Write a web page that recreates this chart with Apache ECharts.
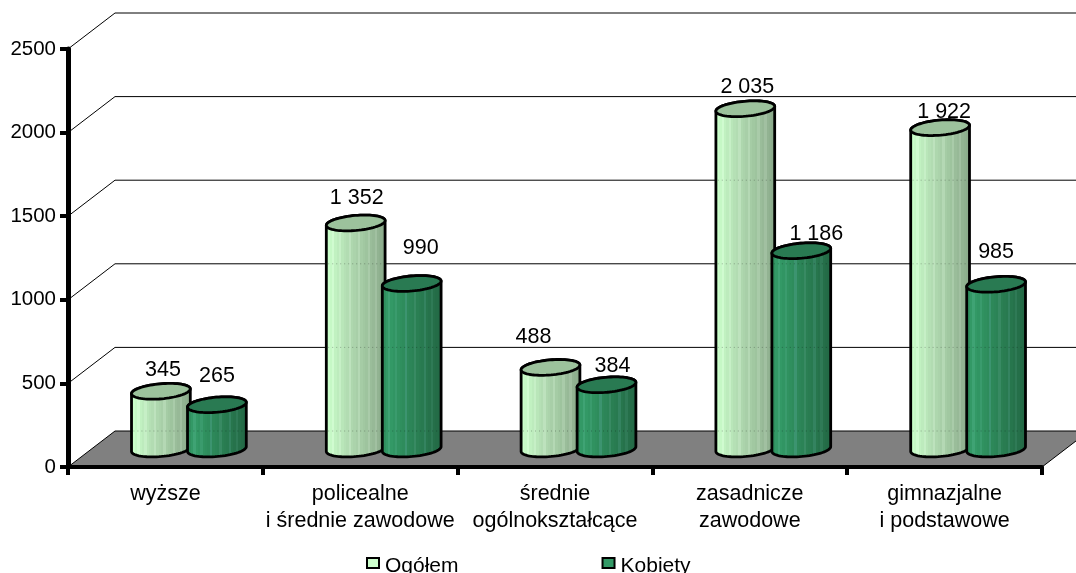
<!DOCTYPE html>
<html>
<head>
<meta charset="utf-8">
<title>Ogółem i Kobiety</title>
<style>html,body{margin:0;padding:0;background:#fff}#main{width:1076px;height:573px}</style>
<script src="https://cdn.jsdelivr.net/npm/echarts@6/dist/echarts.min.js"></script>
</head>
<body>
<div id="main"></div>
<script>
var categories = ['wyższe', 'policealne\ni średnie zawodowe', 'średnie\nogólnokształcące', 'zasadnicze\nzawodowe', 'gimnazjalne\ni podstawowe'];
var ogolem = [345, 1352, 488, 2035, 1922];
var kobiety = [265, 990, 384, 1186, 985];
var yTicks = [0, 500, 1000, 1500, 2000, 2500];

// polozenie etykiet wzgledem srodka gornej podstawy walca (recznie przesuniete jak w oryginale)
var ogolemLabelShift = [[2, -21], [1, -25], [-17, -30], [2, -22], [4, -16]];
var kobietyLabelShift = [[0, -29], [9, -35], [6, -19], [15, -17], [0, -32]];

var FONT = 'Liberation Sans';
var DEPTH_X = 47, DEPTH_Y = 36;
var CYL_W = 59, CYL_OFF = 28, RY = 7.5, TILT = -5 * Math.PI / 180;

var lightBands = ['#ccffcc','#caffca','#c6f8c6','#d0fbd0','#c1f1c1','#bdebbd','#c6efc6','#b9e6b9','#b5e0b5','#b2dcb2','#bde2bd','#aed7ae','#abd3ab','#a8cfa8','#b4d8b4','#a5cca5','#a1c8a1','#9ec49e','#a9cba9','#9abd9a','#97b997','#a1c0a1','#92b392','#8fb08f','#8cac8c','#8aa98a'];
var darkBands = ['#2e8a5c','#30905f','#339966','#3fa374','#339966','#319563','#3a9b6d','#309260','#2f8f5e','#2e8c5c','#3c9470','#2d8859','#2c8558','#2b8356','#388a63','#2a7f53','#297c51','#287a50','#348360','#27764d','#26724b','#2f7a56','#256f49','#246c47','#236a46','#226745'];

function bandFill(bands) {
    var stops = [];
    for (var i = 0; i < bands.length; i++) {
        stops.push({offset: i / bands.length, color: bands[i]});
        stops.push({offset: (i + 1) / bands.length, color: bands[i]});
    }
    return new echarts.graphic.LinearGradient(0, 0, 1, 0, stops);
}

// punkt na pochylonej elipsie
function ellipsePt(cx, cy, t) {
    var ex = CYL_W / 2 * Math.cos(t), ey = RY * Math.sin(t);
    return [cx + ex * Math.cos(TILT) - ey * Math.sin(TILT), cy + ex * Math.sin(TILT) + ey * Math.cos(TILT)];
}

function cylinder(offset, bands, lid, shifts) {
    return function (params, api) {
        var idx = api.value(0);
        var top = api.coord([idx, api.value(1)]);
        var base = api.coord([idx, 0]);
        var cx = top[0] + DEPTH_X / 2 + offset;
        var topY = top[1] - DEPTH_Y / 2;
        var baseY = base[1] - DEPTH_Y / 2;
        var body = [], ring = [], i, n = 36;
        // gorna krawedz od lewej do prawej, potem dolny luk
        for (i = 0; i <= n; i++) body.push(ellipsePt(cx, topY, Math.PI + Math.PI * i / n));
        for (i = 0; i <= n; i++) body.push(ellipsePt(cx, baseY, Math.PI * i / n));
        for (i = 0; i < n * 2; i++) ring.push(ellipsePt(cx, topY, Math.PI * i / n));
        var shift = shifts[idx];
        var children = [
            {type: 'polygon', shape: {points: body},
                style: {fill: bandFill(bands), stroke: '#000', lineWidth: 2.8}}
        ];
        // linie siatki przeswitujace przez walec
        yTicks.forEach(function (tick) {
            var gy = api.coord([idx, tick])[1] - DEPTH_Y;
            if (gy > topY + RY && gy < baseY) {
                children.push({type: 'line',
                    shape: {x1: cx - CYL_W / 2 + 2, y1: gy, x2: cx + CYL_W / 2 - 2, y2: gy},
                    style: {stroke: 'rgba(0,0,0,0.28)', lineWidth: 1, lineDash: [1, 3]}});
            }
        });
        children.push({type: 'polygon', shape: {points: ring},
            style: {fill: lid, stroke: '#000', lineWidth: 2.8}});
        children.push({type: 'text', style: {
            x: cx + shift[0], y: topY + shift[1],
            text: api.value(1).toString().replace(/\B(?=(\d{3})+$)/g, ' '),
            font: '21.5px ' + FONT, fill: '#000', align: 'center', verticalAlign: 'middle'
        }});
        return {type: 'group', children: children};
    };
}

// tylna sciana i podloga
function walls(params, api) {
    var val = api.value(0);
    var a = api.coord([0, val]);
    var left = api.coord([0, 0])[0] - 97.4;
    var right = left + 974;
    var y = a[1];
    var children = [];
    if (val === 0) {
        children.push({type: 'polygon',
            shape: {points: [[left, y], [right, y], [right + DEPTH_X, y - DEPTH_Y], [left + DEPTH_X, y - DEPTH_Y]]},
            style: {fill: '#808080', stroke: '#000', lineWidth: 1}});
    } else {
        children.push({type: 'polyline',
            shape: {points: [[left, y], [left + DEPTH_X, y - DEPTH_Y], [right + DEPTH_X, y - DEPTH_Y]]},
            style: {fill: 'none', stroke: '#000', lineWidth: 1}});
    }
    return {type: 'group', children: children};
}

function pairs(values) {
    var out = [];
    for (var i = 0; i < values.length; i++) out.push([i, values[i]]);
    return out;
}

var chart = echarts.init(document.getElementById('main'), null, {renderer: 'canvas'});
chart.setOption({
    animation: false,
    backgroundColor: '#fff',
    textStyle: {fontFamily: FONT},
    grid: {left: 68, right: 34, top: 49, bottom: 106},
    legend: {
        left: 366, top: 556, padding: 0, itemWidth: 12, itemHeight: 10, itemGap: 143,
        icon: 'rect', data: ['Ogółem', 'Kobiety'],
        itemStyle: {borderColor: '#000', borderWidth: 2},
        formatter: '{a|{name}}',
        textStyle: {
            fontFamily: FONT, fontSize: 21, color: '#000',
            rich: {a: {fontFamily: FONT, fontSize: 21, color: '#000', padding: [7, 0, 0, 1]}}
        }
    },
    xAxis: {
        type: 'category', data: categories, z: 5,
        axisLine: {lineStyle: {color: '#000', width: 4}},
        axisTick: {show: true, alignWithLabel: false, length: 8, lineStyle: {color: '#000', width: 4}},
        axisLabel: {color: '#000', fontFamily: FONT, fontSize: 21.5, margin: 14, lineHeight: 27, interval: 0},
        splitLine: {show: false}
    },
    yAxis: {
        type: 'value', min: 0, max: 2500, interval: 500, z: 5,
        axisLine: {show: true, lineStyle: {color: '#000', width: 5}},
        axisTick: {show: true, length: 8, lineStyle: {color: '#000', width: 4}},
        axisLabel: {color: '#000', fontFamily: FONT, fontSize: 20.5, margin: 12,
            formatter: function (v) { return String(v); }},
        splitLine: {show: false}
    },
    series: [
        {type: 'custom', name: 'sciana', data: yTicks.map(function (v) { return [v]; }),
            encode: {y: 0}, renderItem: walls, silent: true, z: 1},
        {type: 'custom', name: 'Ogółem', data: pairs(ogolem), encode: {x: 0, y: 1},
            itemStyle: {color: '#ccffcc'}, z: 3,
            renderItem: cylinder(-CYL_OFF, lightBands, '#9cc29c', ogolemLabelShift)},
        {type: 'custom', name: 'Kobiety', data: pairs(kobiety), encode: {x: 0, y: 1},
            itemStyle: {color: '#339966'}, z: 4,
            renderItem: cylinder(CYL_OFF, darkBands, '#297a52', kobietyLabelShift)}
    ]
});
</script>
</body>
</html>
